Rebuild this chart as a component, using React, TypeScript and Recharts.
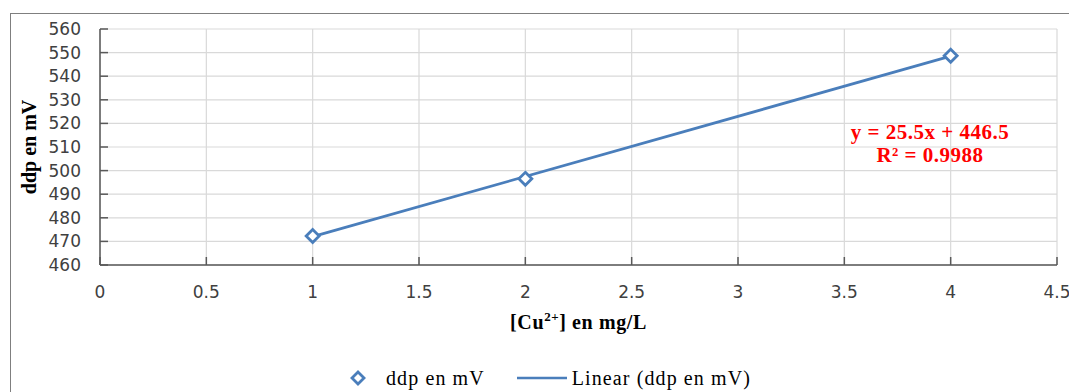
import React from 'react';
import {
  ComposedChart,
  Scatter,
  Line,
  XAxis,
  YAxis,
  CartesianGrid,
  Legend,
} from 'recharts';

// measured points (ddp en mV vs [Cu2+] en mg/L)
const CONCENTRATIONS = [1, 2, 4];
const DDP_VALUES = [472.3, 496.5, 548.7];

// Excel linear trendline shown on the chart
const TREND_SLOPE = 25.5;
const TREND_INTERCEPT = 446.5;
const TREND_X = [1, 4];

const X_TICKS = [0, 0.5, 1, 1.5, 2, 2.5, 3, 3.5, 4, 4.5];
const Y_TICKS = [460, 470, 480, 490, 500, 510, 520, 530, 540, 550, 560];

const BLUE = '#4a7ebb';
const SERIF = '"Liberation Serif", "Times New Roman", serif';
const SANS = '"DejaVu Sans", sans-serif';

const points = CONCENTRATIONS.map((x, i) => ({ x, y: DDP_VALUES[i] }));
const trend = TREND_X.map((x) => ({ x, y: TREND_SLOPE * x + TREND_INTERCEPT }));

function Diamond(props: any) {
  const { cx, cy } = props;
  const r = 6.5;
  return (
    <path
      d={`M${cx},${cy - r} L${cx + r},${cy} L${cx},${cy + r} L${cx - r},${cy} Z`}
      fill="#fff"
      stroke={BLUE}
      strokeWidth={2.8}
    />
  );
}

function YTitle({ viewBox }: any) {
  const x = 29;
  const y = viewBox.y + viewBox.height / 2;
  return (
    <text
      x={x}
      y={y}
      transform={`rotate(-90 ${x} ${y})`}
      textAnchor="middle"
      dominantBaseline="central"
      fontFamily={SERIF}
      fontWeight="bold"
      fontSize={20}
      fill="#000"
    >
      ddp en mV
    </text>
  );
}

function XTitle({ viewBox }: any) {
  const x = viewBox.x + viewBox.width / 2;
  const y = viewBox.y + 64;
  return (
    <text
      x={x}
      y={y}
      textAnchor="middle"
      fontFamily={SERIF}
      fontWeight="bold"
      fontSize={20}
      letterSpacing={0.6}
      fill="#000"
    >
      [Cu
      <tspan dy={-8} fontSize={13}>2+</tspan>
      <tspan dy={8}>] en mg/L</tspan>
    </text>
  );
}

function ChartLegend() {
  return (
    <div
      style={{
        height: 67,
        boxSizing: 'border-box',
        paddingTop: 39,
        paddingLeft: 44,
        display: 'flex',
        alignItems: 'center',
        justifyContent: 'center',
        fontFamily: SERIF,
        fontSize: 20,
        letterSpacing: 1.1,
        color: '#000',
      }}
    >
      <svg width={16} height={16} style={{ marginRight: 20 }}>
        <path d="M8,2 L14,8 L8,14 L2,8 Z" fill="#fff" stroke={BLUE} strokeWidth={2.8} />
      </svg>
      <span style={{ marginRight: 32 }}>ddp en mV</span>
      <svg width={50} height={10} style={{ marginRight: 5 }}>
        <line x1={0} y1={5} x2={50} y2={5} stroke={BLUE} strokeWidth={2.5} />
      </svg>
      <span>Linear (ddp en mV)</span>
    </div>
  );
}

export default function App() {
  return (
    <div style={{ position: 'absolute', left: 0, top: 0, width: 1069, height: 392, background: '#fff', overflow: 'hidden' }}>
      <div
        style={{
          position: 'absolute',
          left: 10,
          top: 13,
          width: 1100,
          height: 420,
          borderLeft: '1.5px solid #7f7f7f',
          borderTop: '1.5px solid #7f7f7f',
        }}
      />
      <div style={{ position: 'absolute', left: 0, top: 0 }}>
        <ComposedChart width={1069} height={392} margin={{ top: 29, right: 12, bottom: 0, left: 0 }}>
          <CartesianGrid stroke="#d9d9d9" strokeWidth={1.2} />
          <XAxis
            type="number"
            dataKey="x"
            domain={[0, 4.5]}
            ticks={X_TICKS}
            interval={0}
            height={60}
            tickSize={-8}
            tickMargin={29}
            stroke="#595959"
            strokeWidth={1.5}
            tick={{ fill: '#404040', fontSize: 17, fontFamily: SANS }}
            label={{ content: XTitle }}
          />
          <YAxis
            type="number"
            dataKey="y"
            domain={[460, 560]}
            ticks={Y_TICKS}
            interval={0}
            width={100}
            tickSize={-8}
            tickMargin={27}
            stroke="#595959"
            strokeWidth={1.5}
            tick={{ fill: '#404040', fontSize: 17, fontFamily: SANS }}
            label={{ content: YTitle }}
          />
          <Legend verticalAlign="bottom" content={() => <ChartLegend />} />
          <Line
            data={trend}
            dataKey="y"
            type="linear"
            stroke={BLUE}
            strokeWidth={2.8}
            dot={false}
            activeDot={false}
            isAnimationActive={false}
          />
          <Scatter data={points} dataKey="y" shape={Diamond} isAnimationActive={false} />
          <g>
            <text x={930} y={139} textAnchor="middle" fontFamily={SERIF} fontWeight="bold" fontSize={21} letterSpacing={0.5} fill="#ff0000">
              y = 25.5x + 446.5
            </text>
            <text x={930} y={162} textAnchor="middle" fontFamily={SERIF} fontWeight="bold" fontSize={21} letterSpacing={0.5} fill="#ff0000">
              R² = 0.9988
            </text>
          </g>
        </ComposedChart>
      </div>
    </div>
  );
}
